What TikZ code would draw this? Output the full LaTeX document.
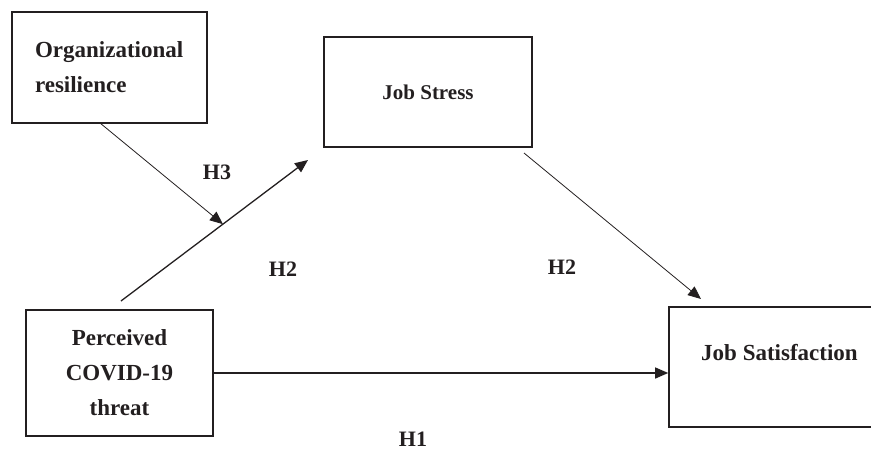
\documentclass[tikz,border=0pt]{standalone}
\usepackage{fontspec}
\setmainfont{Liberation Serif}
\usetikzlibrary{arrows.meta,calc}
\definecolor{ink}{HTML}{231F20}
\begin{document}
\begin{tikzpicture}[x=1pt,y=-1pt,
  box/.style={draw=ink, line width=1.6pt, inner sep=0pt},
  big/.style={font=\fontsize{23}{35}\selectfont\bfseries, text=ink},
  small/.style={font=\fontsize{21}{30}\selectfont\bfseries, text=ink},
  hyp/.style={font=\fontsize{22}{26}\selectfont\bfseries, text=ink},
  arr/.style={-{Triangle[length=13pt,width=11pt]}, draw=ink, line width=1.3pt},
  thinarr/.style={-{Triangle[length=13pt,width=11pt]}, draw=ink, line width=0.8pt}]
\useasboundingbox (0,0) rectangle (871,452);
% boxes
\node[box, big, minimum width=195pt, minimum height=111pt, text width=149pt,
      inner xsep=23pt, align=left] (org) at (109.5,67.5)
      {Organizational\\resilience};
\node[box, small, minimum width=208pt, minimum height=110pt] (js) at (428,92) {Job Stress};
\node[box, big, minimum width=187pt, minimum height=126pt, align=center] (per) at (119.5,373)
      {Perceived\\COVID-19\\threat};
\node[box, minimum width=221pt, minimum height=120pt] (sat) at (779.5,367) {};
\node[big] (satlbl) at (779.5,353) {Job Satisfaction};
% arrow end points
\coordinate (h2s) at (121,301);
\coordinate (h2e) at (308,160);
\coordinate (h3s) at (100,123);
\coordinate (h3e) at ($(h2s)!0.545!(h2e)$);
\coordinate (jss) at (524,153);
\coordinate (jse) at (701,299);
% connectors
\draw[arr] (h2s) -- (h2e);
\draw[thinarr] (h3s) -- (h3e);
\draw[thinarr] (jss) -- (jse);
\draw[arr] (per.east) -- (per.east -| sat.west);
% hypothesis labels
\node[hyp] (lh3) at (217,172) {H3};
\node[hyp] (lh2a) at (283,269) {H2};
\node[hyp] (lh2b) at (562,267) {H2};
\node[hyp] (lh1) at (413,439) {H1};
\end{tikzpicture}
\end{document}
